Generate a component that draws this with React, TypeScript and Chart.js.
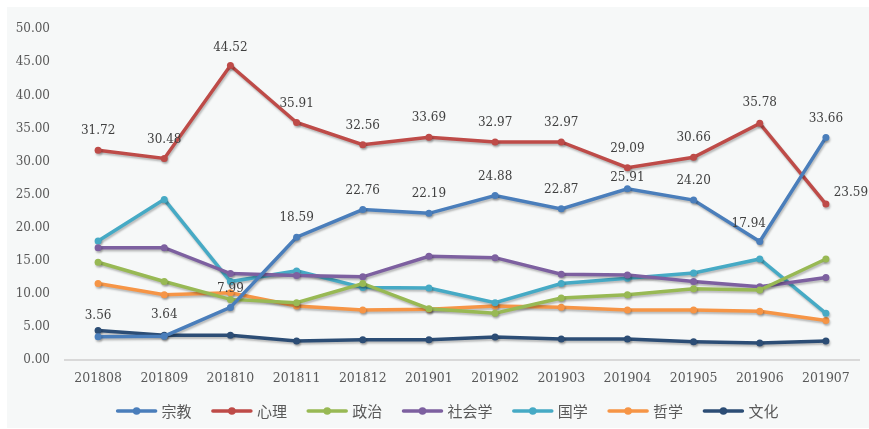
import React, { useEffect, useRef } from "react";
import { Chart, registerables } from "chart.js";

Chart.register(...registerables);

const months = ["201808", "201809", "201810", "201811", "201812", "201901", "201902", "201903", "201904", "201905", "201906", "201907"];
const zongjiao = [3.56, 3.64, 7.99, 18.59, 22.76, 22.19, 24.88, 22.87, 25.91, 24.2, 17.94, 33.66];
const xinli = [31.72, 30.48, 44.52, 35.91, 32.56, 33.69, 32.97, 32.97, 29.09, 30.66, 35.78, 23.59];
const zhengzhi = [14.8, 11.9, 9.2, 8.7, 11.6, 7.8, 7.1, 9.4, 9.9, 10.8, 10.6, 15.3];
const shehuixue = [17.0, 17.0, 13.1, 12.8, 12.6, 15.7, 15.5, 13.0, 12.9, 11.9, 11.1, 12.5];
const guoxue = [18.0, 24.3, 11.9, 13.5, 11.0, 10.9, 8.7, 11.6, 12.4, 13.2, 15.3, 7.1];
const zhexue = [11.6, 9.9, 10.2, 8.2, 7.6, 7.7, 8.2, 8.0, 7.6, 7.6, 7.4, 6.0];
const wenhua = [4.5, 3.8, 3.8, 2.9, 3.1, 3.1, 3.5, 3.2, 3.2, 2.8, 2.6, 2.9];

const seriesNames = ["宗教", "心理", "政治", "社会学", "国学", "哲学", "文化"];
const seriesData = [zongjiao, xinli, zhengzhi, shehuixue, guoxue, zhexue, wenhua];
const seriesColors = ["#4A7EBB", "#BE4B48", "#98B954", "#7D60A0", "#46AAC5", "#F69546", "#2C4D75"];
const labelled = [true, true, false, false, false, false, false];

const shadowPlugin = {
  id: "lineShadow",
  beforeDatasetDraw(chart: any) {
    const ctx = chart.ctx;
    ctx.save();
    ctx.shadowColor = "rgba(0,0,0,0.25)";
    ctx.shadowBlur = 2;
    ctx.shadowOffsetX = 1;
    ctx.shadowOffsetY = 2;
  },
  afterDatasetDraw(chart: any) {
    chart.ctx.restore();
  },
};

const labelPlugin = {
  id: "pointLabels",
  afterDatasetsDraw(chart: any) {
    const ctx = chart.ctx;
    ctx.save();
    ctx.font = "12px 'DejaVu Serif'";
    ctx.fillStyle = "#404040";
    ctx.textAlign = "center";
    ctx.textBaseline = "middle";
    chart.data.datasets.forEach((ds: any, di: number) => {
      if (!ds.showLabels) return;
      const meta = chart.getDatasetMeta(di);
      meta.data.forEach((pt: any, i: number) => {
        const v = ds.data[i] as number;
        const off = (ds.labelOffsets && ds.labelOffsets[i]) || [0, -19];
        ctx.fillText(v.toFixed(2), pt.x + off[0], pt.y + off[1]);
      });
    });
    ctx.restore();
  },
};

const legendPlugin = {
  id: "customLegend",
  afterDraw(chart: any) {
    const ctx = chart.ctx;
    const ds = chart.data.datasets;
    ctx.save();
    ctx.font = "15px 'Noto Sans CJK SC'";
    const markerW = 42;
    const textGap = 4;
    const itemGap = 19.3;
    const widths = ds.map((d: any) => markerW + textGap + ctx.measureText(d.label).width);
    const total = widths.reduce((a: number, b: number) => a + b, 0) + itemGap * (ds.length - 1);
    const cx = (chart.chartArea.left + chart.chartArea.right) / 2 - 15;
    let x = cx - total / 2;
    const y = chart.height - 17;
    ds.forEach((d: any, i: number) => {
      const c = d.borderColor;
      ctx.strokeStyle = c;
      ctx.fillStyle = c;
      ctx.lineWidth = 3.5;
      ctx.lineCap = "round";
      ctx.beginPath();
      ctx.moveTo(x + 2, y);
      ctx.lineTo(x + markerW - 2, y);
      ctx.stroke();
      ctx.beginPath();
      ctx.arc(x + markerW / 2, y, 3.8, 0, Math.PI * 2);
      ctx.fill();
      ctx.fillStyle = "#595959";
      ctx.textAlign = "left";
      ctx.textBaseline = "middle";
      ctx.fillText(d.label, x + markerW + textGap, y);
      x += widths[i] + itemGap;
    });
    ctx.restore();
  },
};

export default function App() {
  const ref = useRef<HTMLCanvasElement | null>(null);

  useEffect(() => {
    if (!ref.current) return;
    const datasets = seriesNames.map((name, i) => {
      const ds: any = {
        label: name,
        data: seriesData[i],
        borderColor: seriesColors[i],
        backgroundColor: seriesColors[i],
        borderWidth: 3.5,
        pointRadius: 3.5,
        pointHoverRadius: 3.5,
        pointBorderWidth: 0,
        pointBackgroundColor: seriesColors[i],
        tension: 0,
        fill: false,
        showLabels: labelled[i],
      };
      if (i === 0) {
        ds.labelOffsets = { 0: [0, -21], 1: [0, -21], 8: [0, -11], 10: [-11, -18] };
      }
      if (i === 1) {
        ds.labelOffsets = { 2: [0, -18], 11: [25, -11], 10: [0, -20] };
      }
      return ds;
    });

    const chart = new Chart(ref.current, {
      type: "line",
      data: { labels: months, datasets },
      plugins: [shadowPlugin, labelPlugin, legendPlugin],
      options: {
        animation: false,
        responsive: false,
        events: [],
        layout: { padding: { top: 13, right: 10, left: 0, bottom: 35.7 } },
        plugins: {
          tooltip: { enabled: false },
          legend: { display: false },
        },
        scales: {
          x: {
            offset: true,
            grid: { display: false, drawTicks: false, offset: true },
            border: { display: true, color: "#D9D9D9", width: 2 },
            ticks: {
              color: "#595959",
              font: { family: "'DejaVu Serif'", size: 12.5 },
              padding: 11,
              maxRotation: 0,
              autoSkip: false,
            },
            afterFit(scale: any) {
              scale.height = 32;
            },
          },
          y: {
            min: 0,
            max: 50,
            grid: { display: false, drawTicks: false },
            border: { display: false },
            ticks: {
              stepSize: 5,
              color: "#595959",
              font: { family: "'DejaVu Serif'", size: 12 },
              padding: 15,
              callback: (v: any) => Number(v).toFixed(2),
            },
            afterFit(scale: any) {
              scale.width = 58;
            },
          },
        },
      } as any,
    });
    return () => chart.destroy();
  }, []);

  return (
    <div style={{ position: "absolute", left: 7, top: 7, width: 862, height: 421 }}>
      <canvas ref={ref} width={862} height={421} style={{ display: "block", background: "#F6F8F8" }} />
    </div>
  );
}
